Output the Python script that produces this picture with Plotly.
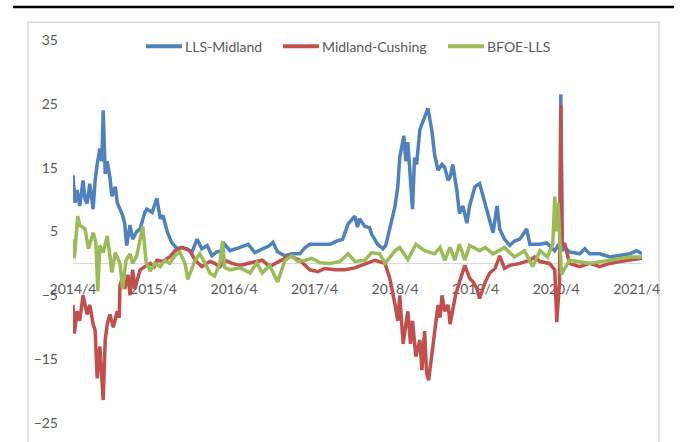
import plotly.graph_objects as go

# x positions: months since 2014/4
tick_vals = [0, 12, 24, 36, 48, 60, 72, 84]
tick_text = ["2014/4", "2015/4", "2016/4", "2017/4", "2018/4", "2019/4", "2020/4", "2021/4"]
y_ticks = [-25, -15, -5, 5, 15, 25, 35]
series_names = ["LLS-Midland", "Midland-Cushing", "BFOE-LLS"]
series_colors = ["#4F81BD", "#C0504D", "#9BBB59"]

lls_mid_m = [0, 0.3, 0.6, 1.0, 1.5, 1.8, 2.1, 2.5, 3.0, 3.3, 3.6, 4.0, 4.3, 4.5, 4.8, 5.1, 5.5, 5.8,
             6.3, 6.6, 7.0, 7.4, 7.7, 8.0, 8.5, 8.9, 9.5, 10.0, 10.7, 11.0, 11.8, 12.5, 13.0, 13.4,
             14.1, 14.7, 15.5, 16.2, 17.0, 17.7, 18.5, 19.2, 20.0, 20.7, 21.4, 22.2, 22.6, 23.4,
             24.9, 26.1, 27.1, 28.2, 29.3, 29.8, 30.5, 31.6, 32.6, 33.8, 34.6, 35.3, 36.0, 37.1,
             38.3, 39.3, 40.2, 41.0, 41.6, 42.0, 42.4, 42.7, 43.5, 44.2, 44.5, 45.4, 46.2, 46.6,
             47.2, 48.0, 48.4, 48.7, 49.3, 49.6, 49.9, 50.3, 50.6, 50.9, 51.2, 51.7, 52.4, 52.9,
             53.5, 53.9, 54.4, 55.0, 55.4, 55.9, 56.2, 56.6, 57.2, 57.6, 58.1, 58.7, 59.1, 59.9,
             60.6, 61.1, 61.7, 62.1, 62.6, 63.2, 63.6, 64.3, 65.1, 65.8, 66.6, 67.6, 68.1, 69.6,
             70.6, 71.3, 71.8, 72.4, 72.6, 72.7, 72.9, 73.3, 74.0, 75.5, 76.3, 77.0, 78.5, 80.0,
             81.5, 83.0, 84.0, 84.8]
lls_mid_v = [13.8, 9.5, 11.5, 9.0, 13.0, 10.0, 9.4, 12.5, 8.5, 13.0, 15.5, 18.0, 16.0, 24.0, 14.0, 16.0, 13.5, 10.5,
             12.0, 9.5, 8.5, 7.5, 6.3, 2.8, 6.0, 3.8, 5.0, 5.4, 8.0, 8.5, 8.0, 10.2, 7.0, 7.5,
             4.8, 3.3, 2.3, 2.5, 2.3, 1.7, 3.8, 2.3, 2.8, 1.2, 1.8, 2.0, 3.0, 2.0,
             2.5, 3.0, 1.7, 2.2, 2.8, 3.3, 1.8, 1.2, 1.5, 1.5, 2.5, 3.0, 3.0, 2.9,
             3.0, 3.5, 3.8, 6.2, 7.0, 7.4, 5.7, 7.0, 5.8, 5.6, 4.6, 3.0, 2.3, 2.8,
             5.4, 9.0, 12.0, 16.6, 20.0, 16.0, 19.0, 13.5, 8.5, 16.6, 15.5, 21.0, 22.8, 24.3,
             20.7, 17.0, 14.6, 15.5, 15.0, 13.0, 13.5, 15.5, 11.5, 7.8, 9.0, 6.3, 9.0, 12.0,
             12.5, 10.5, 8.5, 7.0, 4.8, 9.0, 5.4, 3.8, 2.8, 3.5, 3.8, 5.4, 3.0, 3.0,
             3.2, 2.5, 2.0, 3.0, 2.5, 26.5, 2.0, 2.5, 1.8, 1.5, 2.3, 1.5, 1.5, 1.0,
             1.3, 1.5, 2.0, 1.5]

mid_cush_m = [0, 0.2, 0.6, 1.0, 1.5, 2.1, 2.5, 3.0, 3.3, 3.6, 4.0, 4.5, 4.8, 5.1, 5.5, 6.0, 6.6, 6.9,
              7.0, 7.4, 7.7, 8.2, 8.5, 8.9, 9.2, 10.0, 10.7, 11.5, 12.1, 12.5, 13.4, 14.4, 15.2,
              16.2, 17.4, 18.2, 19.2, 20.4, 21.1, 21.9, 22.6, 23.7, 24.9, 26.1, 27.1, 28.2, 29.3,
              30.8, 32.3, 33.8, 35.3, 36.5, 37.5, 39.0, 40.5, 42.0, 43.5, 45.0, 46.5, 47.2, 48.0,
              48.4, 48.7, 49.2, 49.9, 50.3, 50.6, 51.1, 51.7, 52.0, 52.4, 52.7, 53.0, 53.5, 53.9,
              54.4, 54.7, 55.0, 55.4, 55.9, 56.2, 56.6, 57.0, 57.6, 58.1, 58.4, 59.1, 59.7, 60.2,
              60.6, 61.4, 62.1, 62.9, 63.6, 64.3, 65.1, 66.6, 68.1, 68.8, 69.6, 71.0, 71.8, 72.1,
              72.5, 72.7, 72.9, 73.3, 74.0, 75.5, 77.0, 78.5, 80.0, 81.5, 83.0, 84.8]
mid_cush_v = [-6.5, -11.0, -7.5, -9.0, -5.0, -8.0, -6.5, -9.5, -10.5, -18.0, -13.0, -21.4, -12.0, -9.5, -8.0, -10.0, -7.5, -8.5,
              -3.4, -2.3, -4.0, -1.8, -5.0, -1.0, -4.0, -1.0, -0.5, 0.0, -0.5, 0.5, 0.3, 1.0, 2.0,
              2.5, 2.0, 0.5, -0.5, 0.3, 0.0, -0.5, 0.5, 0.0, -0.3, 0.0, 0.3, 0.5, -0.5,
              0.3, 1.2, 0.5, -1.0, -1.3, -0.8, -1.0, -1.0, -0.7, -0.1, 0.5, 0.0, -2.3, -6.5,
              -9.0, -5.0, -12.6, -7.5, -12.6, -9.0, -14.6, -12.0, -16.7, -10.6, -17.2, -18.3, -14.0, -10.0,
              -6.5, -8.5, -5.0, -7.5, -6.5, -9.5, -7.0, -5.0, -2.9, -1.0, -0.3, -2.3, -3.0, -4.0,
              -5.5, -3.0, -1.5, -0.8, 1.2, -0.8, -0.3, 0.0, 0.5, 1.0, 0.3, 0.0, -1.0, -9.2,
              -3.0, 24.8, 3.0, 3.0, 0.0, -0.5, 0.0, -0.5, 0.0, 0.3, 0.5, 0.8]

bfoe_lls_m = [0, 0.2, 0.7, 1.0, 1.8, 2.3, 3.0, 3.4, 3.7, 4.0, 4.5, 5.1, 5.5, 5.8, 6.3, 7.0, 7.4, 7.9,
              8.5, 8.9, 9.5, 10.4, 10.9, 11.5, 12.2, 13.0, 13.7, 14.4, 15.2, 15.9, 16.7, 17.1, 18.2,
              18.9, 19.7, 20.4, 21.1, 21.9, 22.3, 22.6, 23.4, 24.9, 26.4, 27.4, 28.2, 29.3, 30.5,
              31.6, 32.6, 33.5, 34.6, 35.6, 36.8, 38.3, 39.8, 41.0, 42.0, 43.5, 44.5, 45.7, 46.5,
              48.0, 48.7, 49.9, 51.1, 52.4, 53.9, 54.7, 55.4, 56.2, 56.9, 57.6, 58.4, 59.1, 60.6,
              61.4, 62.6, 63.6, 64.3, 65.8, 67.3, 68.5, 69.6, 70.7, 71.5, 71.8, 72.0, 72.3, 72.6,
              72.8, 74.0, 75.5, 77.0, 80.0, 83.0, 84.8]
bfoe_lls_v = [3.8, 0.8, 7.4, 6.0, 5.4, 2.3, 4.8, 3.3, -4.4, 2.8, 1.7, 4.3, 1.2, -1.4, 1.7, 0.0, -4.0, 0.5,
              1.5, 0.0, 1.2, 5.8, 0.2, -1.2, 0.0, -0.5, 0.5, 0.0, 1.2, 1.8, 0.0, -2.5, 0.5,
              1.5, 0.0, -1.5, -2.0, 0.0, 3.5, -0.6, -1.0, -0.7, -1.5, 0.1, -1.5, -0.3, -2.9,
              0.5, 1.2, 0.3, 0.5, 0.8, 0.1, 0.0, 0.3, 1.5, 0.3, 0.5, 1.7, 1.5, 0.0,
              2.0, 2.5, 0.6, 3.0, 2.0, 1.5, 2.5, 0.5, 2.5, 0.5, 3.0, 0.5, 2.8, 2.0,
              2.5, 1.5, 2.0, 2.5, 1.0, 2.0, -0.5, 2.0, 1.0, 3.0, 10.5, 5.0, 9.5, 2.0,
              -1.7, 0.5, 0.3, 0.0, 0.5, 1.0, 1.0]

FONT = "Lato"
GRAY = "#595959"
LW = 3.5

fig = go.Figure()
for name, color, xs, ys in zip(series_names, series_colors,
                               [lls_mid_m, mid_cush_m, bfoe_lls_m],
                               [lls_mid_v, mid_cush_v, bfoe_lls_v]):
    fig.add_trace(go.Scatter(x=xs, y=ys, mode="lines", name=name, showlegend=False,
                             line=dict(color=color, width=LW)))

# plot area in pixels: x 73..642, y 40..431
PL, PR, PT, PB = 73, 642, 40, 431
def px(p):
    return (p - PL) / (PR - PL)
def py(q):
    return (PB - q) / (PB - PT)

shapes = [
    dict(type="line", xref="paper", yref="paper", x0=px(13), x1=px(674), y0=py(6.3), y1=py(6.3),
         line=dict(color="black", width=2.5)),
    dict(type="rect", xref="paper", yref="paper", x0=px(28), x1=px(659), y0=py(22), y1=py(460),
         line=dict(color="#D9D9D9", width=1.5), layer="below"),
]
annotations = []
legend_line_x = [146, 283, 448]
legend_y = 46.5
for name, color, lx in zip(series_names, series_colors, legend_line_x):
    shapes.append(dict(type="line", xref="paper", yref="paper", x0=px(lx), x1=px(lx + 36),
                       y0=py(legend_y), y1=py(legend_y), line=dict(color=color, width=4)))
    annotations.append(dict(xref="paper", yref="paper", x=px(lx + 37), y=py(legend_y),
                            xanchor="left", yanchor="middle", text=name, showarrow=False,
                            font=dict(family=FONT, size=14, color=GRAY)))

fig.update_layout(
    width=680, height=442,
    margin=dict(l=PL, r=680 - PR, t=PT, b=442 - PB),
    paper_bgcolor="white", plot_bgcolor="white",
    font=dict(family=FONT, size=14, color=GRAY),
    showlegend=False,
    xaxis=dict(range=[0, 84.8], tickvals=tick_vals, ticktext=tick_text,
               showgrid=False, zeroline=False, showline=True, linecolor="#D9D9D9", linewidth=1,
               anchor="free", position=25/60, ticks="", ticklabelstandoff=13,
               layer="below traces", tickfont=dict(family=FONT, size=14, color=GRAY)),
    yaxis=dict(range=[-25, 35], tickvals=y_ticks, showgrid=False, zeroline=False,
               showline=False, ticks="", ticklabelstandoff=14,
               tickfont=dict(family=FONT, size=14, color=GRAY)),
    shapes=shapes,
    annotations=annotations,
)

fig.write_html("out.html")
